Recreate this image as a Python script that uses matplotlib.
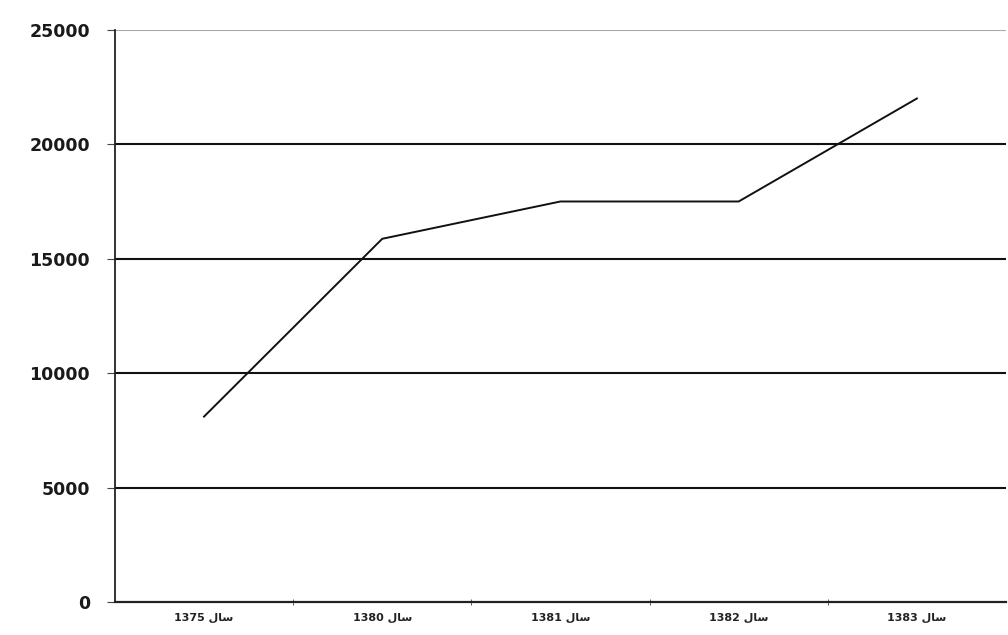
import matplotlib.pyplot as plt
from matplotlib.ticker import FixedLocator

# labels read as "سال 1375" etc.; written in visual order with shaped Arabic forms
years = ["1375", "1380", "1381", "1382", "1383"]
word = "\ufedd\ufe8e\ufeb3"  # سال shaped, left-to-right visual order
values = [8100, 15870, 17500, 17500, 22000]
yticks = [0, 5000, 10000, 15000, 20000, 25000]

labels = [f"{y} {word}" for y in years]

fig = plt.figure(figsize=(10.08, 6.35), dpi=100)
ax = fig.add_axes([0.114, 0.052, 0.884, 0.901])

xs = list(range(len(years)))
ax.plot(xs, values, color='#111111', linewidth=1.4)

ax.set_xlim(-0.5, len(years) - 0.5)
ax.set_ylim(0, 25000)

ax.set_yticks(yticks)
ax.set_yticklabels([str(t) for t in yticks], fontsize=12.5, fontweight='bold',
                   family=['DejaVu Sans'], color='#1a1a1a')
for t in yticks[1:-1]:
    ax.axhline(t, color='#111111', linewidth=1.5)
ax.axhline(25000, color='#aaaaaa', linewidth=0.8)

ax.set_xticks(xs)
ax.set_xticklabels(labels, fontsize=8, fontweight='bold',
                   family=['DejaVu Sans'], color='#222222')
ax.tick_params(axis='x', length=0, pad=8)
ax.xaxis.set_minor_locator(FixedLocator([0.5, 1.5, 2.5, 3.5]))
ax.tick_params(axis='x', which='minor', length=4, direction='inout', color='#444444')
ax.tick_params(axis='y', length=6, color='#444444', pad=12)

for side in ['top', 'right']:
    ax.spines[side].set_visible(False)
ax.spines['left'].set_color('#222222')
ax.spines['bottom'].set_color('#222222')
ax.spines['left'].set_linewidth(1.3)
ax.spines['bottom'].set_linewidth(1.6)

fig.savefig("out.png", dpi=100)
